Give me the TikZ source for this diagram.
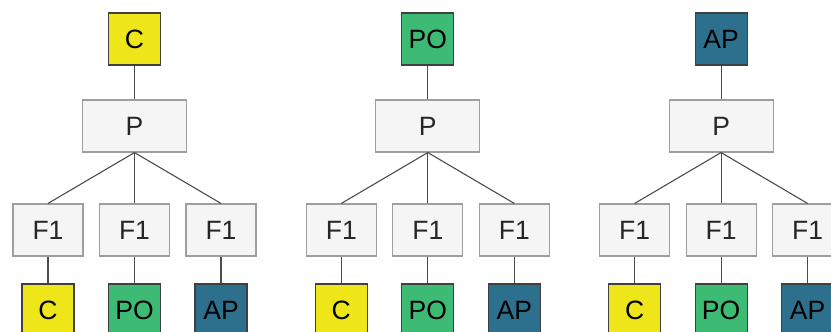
\documentclass[tikz,border=0pt]{standalone}
\usepackage{fontspec}
\setmainfont{Liberation Sans}
\usepackage{tikz}
\usetikzlibrary{shapes,arrows}
\definecolor{cyel}{RGB}{238,230,24}
\definecolor{cgrn}{RGB}{61,187,117}
\definecolor{cblu}{RGB}{45,112,142}
\tikzstyle{cat} = [rectangle, draw=black!75, %fill set per node
    minimum width=52pt, minimum height=52pt, inner sep=0pt, text=black]
\tikzstyle{pbox} = [rectangle, draw=black!38, fill=black!4,
    minimum width=104pt, minimum height=52pt, inner sep=0pt, text=black!85]
\tikzstyle{fbox} = [rectangle, draw=black!38, fill=black!4,
    minimum width=70pt, minimum height=52pt, inner sep=0pt, text=black!85]
\tikzstyle{link} = [draw, black!70, line width=1.1pt]

\begin{document}
\begin{tikzpicture}[x=1pt, y=1pt, font=\fontsize{26.5}{30}\selectfont, line width=1.1pt]
    \useasboundingbox (0,0) rectangle (831,-332);
    \clip (0,0) rectangle (831,-332);
    % Place nodes, one tree per root class
    \foreach \t/\lab/\col in {0/C/cyel, 1/PO/cgrn, 2/AP/cblu} {
        \node [cat, fill=\col] (top\t) at (134.5+293.3*\t, -39) {\lab};
        \node [pbox, below of=top\t, node distance=87pt] (p\t) {P};

        \node [fbox, below of=p\t, node distance=104pt] (fpo\t) {F1};
        \node [fbox, left of=fpo\t, node distance=86.5pt] (fc\t) {F1};
        \node [fbox, right of=fpo\t, node distance=86.5pt] (fap\t) {F1};

        \node [cat, fill=cyel, below of=fc\t, node distance=80pt] (c\t) {C};
        \node [cat, fill=cgrn, below of=fpo\t, node distance=80pt] (po\t) {PO};
        \node [cat, fill=cblu, below of=fap\t, node distance=80pt] (ap\t) {AP};

        % Draw lines
        \path [link] (top\t) -- (p\t);
        \path [link] (p\t.south) -- (fc\t.north);
        \path [link] (p\t.south) -- (fpo\t.north);
        \path [link] (p\t.south) -- (fap\t.north);
        \path [link] (fc\t) -- (c\t);
        \path [link] (fpo\t) -- (po\t);
        \path [link] (fap\t) -- (ap\t);
    }
\end{tikzpicture}
\end{document}
